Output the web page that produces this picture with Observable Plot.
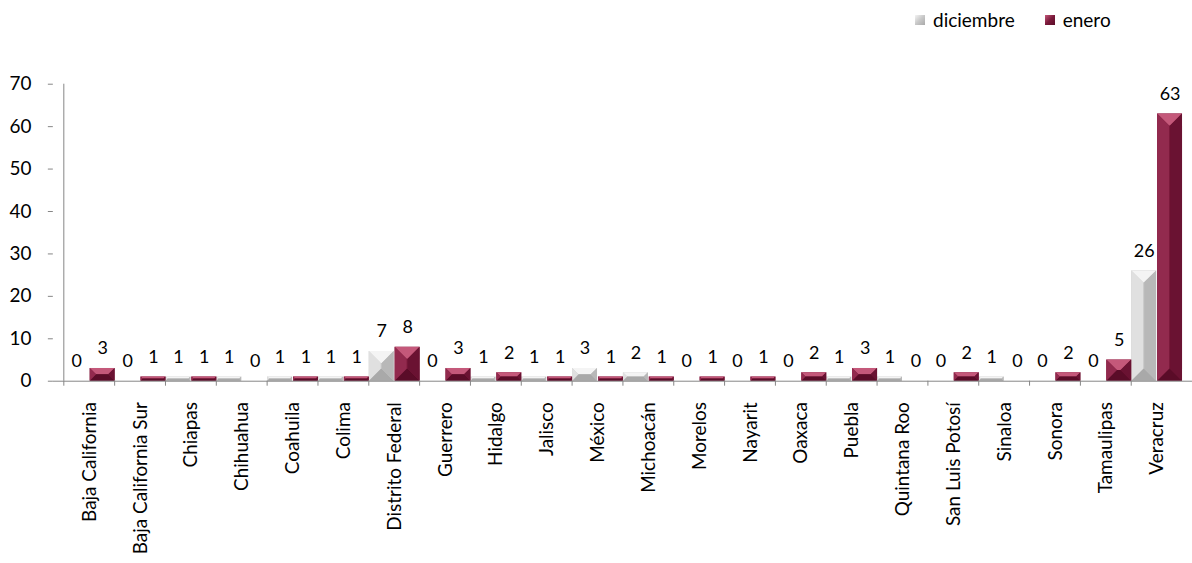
<!DOCTYPE html>
<html><head><meta charset="utf-8">
<script src="https://cdn.jsdelivr.net/npm/d3@7"></script>
<script src="https://cdn.jsdelivr.net/npm/@observablehq/plot@0.6"></script>
<style>
body{margin:0;overflow:hidden;background:#fff;}
#wrap{position:relative;width:1192px;height:563px;overflow:hidden;font-family:Lato,"Open Sans",sans-serif;}
#legend{position:absolute;left:915px;top:9px;display:flex;align-items:center;font-size:19px;color:#000;line-height:22px;}
#legend .sw{display:inline-block;width:10px;height:10px;margin-right:8px;}
#legend .item{display:flex;align-items:center;margin-right:30px;}
</style>
</head><body>
<div id="wrap"><div id="legend"></div><div id="chart"></div></div>
<script>
const states = ["Baja California","Baja California Sur","Chiapas","Chihuahua","Coahuila","Colima","Distrito Federal","Guerrero","Hidalgo","Jalisco","México","Michoacán","Morelos","Nayarit","Oaxaca","Puebla","Quintana Roo","San Luis Potosí","Sinaloa","Sonora","Tamaulipas","Veracruz"];
const diciembre = [0,0,1,1,1,1,7,0,1,1,3,2,0,0,0,1,1,0,1,0,0,26];
const enero     = [3,1,1,0,1,1,8,3,2,1,1,1,1,1,2,3,0,2,0,2,5,63];
const series = ["diciembre","enero"];
const yTicks = [0,10,20,30,40,50,60,70];

const colors = {diciembre:"#c8c8c8", enero:"#7b1a3b"};
const bevel = {
  diciembre:{top:"#f4f4f4", left:"#e0e0e0", right:"#b8b8b8", bottom:"#a9a9a9"},
  enero:{top:"#c4587a", left:"#922a4e", right:"#6a1232", bottom:"#5a0c28"}
};

const rowsDic = states.map((s,i)=>({state:s, value:diciembre[i], series:"diciembre"}));
const rowsEne = states.map((s,i)=>({state:s, value:enero[i], series:"enero"}));

const W = 1196, H = 563, mL = 53, mR = 0, mT = 84, mB = 181;
const step = (W - mL - mR) / states.length;
const axisColor = "#868686";
const font = "Lato, 'Open Sans', sans-serif";

const chart = Plot.plot({
  width: W, height: H,
  marginLeft: mL, marginRight: mR, marginTop: mT, marginBottom: mB,
  style: {fontFamily: font, fontSize: "19px", color: "#000", background: "#fff", overflow: "visible"},
  x: {domain: states, padding: 0, axis: null},
  y: {domain: [0,70], axis: null},
  marks: [
    Plot.ruleX([states[0]], {dx: -step/2, stroke: axisColor, strokeWidth: 1}),
    Plot.axisY({ticks: yTicks, tickSize: 5, tickPadding: 17, stroke: axisColor, fill: "#000", fontSize: 19, label: null}),
    Plot.barY(rowsDic, {x: "state", y: "value", fill: colors.diciembre, insetRight: step/2}),
    Plot.barY(rowsEne, {x: "state", y: "value", fill: colors.enero, insetLeft: step/2}),
    Plot.ruleY([0], {stroke: axisColor, strokeWidth: 1}),
    Plot.axisX({tickSize: 5, tickFormat: () => "", dx: -step/2, stroke: axisColor, label: null}),
    Plot.text(states, {x: d => d, frameAnchor: "bottom", rotate: -90, textAnchor: "end", lineAnchor: "middle", dy: 21, fontSize: 19, fill: "#000"}),
    Plot.text(rowsDic, {x: "state", y: "value", text: d => String(d.value), dx: -step/4, dy: -20, fontSize: 18, fill: "#000"}),
    Plot.text(rowsEne, {x: "state", y: "value", text: d => String(d.value), dx: step/4, dy: -20, fontSize: 18, fill: "#000"})
  ]
});
document.getElementById("chart").appendChild(chart);

// bevel decoration derived from the rendered bars
const NS = "http://www.w3.org/2000/svg";
chart.querySelectorAll('g[aria-label="bar"]').forEach(g => {
  const fill = g.getAttribute("fill");
  const key = fill === colors.enero ? "enero" : "diciembre";
  const bc = bevel[key];
  g.querySelectorAll("rect").forEach(r => {
    const x = +r.getAttribute("x"), y = +r.getAttribute("y");
    const w = +r.getAttribute("width"), h = +r.getAttribute("height");
    if (!(h > 0)) return;
    const b = Math.min(12, w/2, h/2);
    const faces = [
      [bc.top, [[x,y],[x+w,y],[x+w-b,y+b],[x+b,y+b]]],
      [bc.bottom, [[x,y+h],[x+w,y+h],[x+w-b,y+h-b],[x+b,y+h-b]]],
      [bc.left, [[x,y],[x+b,y+b],[x+b,y+h-b],[x,y+h]]],
      [bc.right, [[x+w,y],[x+w-b,y+b],[x+w-b,y+h-b],[x+w,y+h]]]
    ];
    faces.forEach(([c, pts]) => {
      const p = document.createElementNS(NS, "polygon");
      p.setAttribute("points", pts.map(q => q.join(",")).join(" "));
      p.setAttribute("fill", c);
      g.appendChild(p);
    });
  });
});

// legend
const leg = document.getElementById("legend");
series.forEach(s => {
  const it = document.createElement("div"); it.className = "item";
  const sw = document.createElement("span"); sw.className = "sw";
  sw.style.background = `linear-gradient(135deg, ${bevel[s].top}, ${colors[s]} 50%, ${bevel[s].bottom})`;
  const t = document.createElement("span"); t.textContent = s;
  it.appendChild(sw); it.appendChild(t); leg.appendChild(it);
});
</script>
</body></html>
